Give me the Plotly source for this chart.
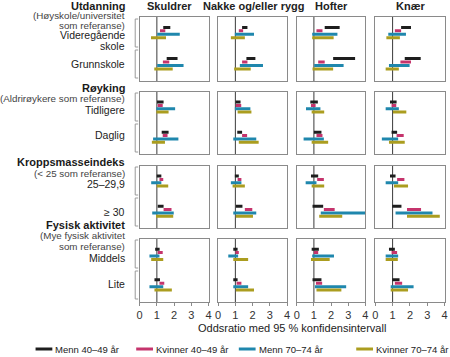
import plotly.graph_objects as go

W, H = 450, 357

# ---------------- data ----------------
columns = ["Skuldrer", "Nakke og/eller rygg", "Hofter", "Knær"]
groups = ["Utdanning", "Røyking", "Kroppsmasseindeks", "Fysisk aktivitet"]
group_refs = [["(Høyskole/universitet", "som referanse)"],
              ["(Aldrirøykere som referanse)"],
              ["(&lt; 25 som referanse)"],
              ["(Mye fysisk aktivitet", "som referanse)"]]
categories = [["Videregående<br>skole", "Grunnskole"],
              ["Tidligere", "Daglig"],
              ["25–29,9", "≥ 30"],
              ["Middels", "Lite"]]
series_names = ["Menn 40–49 år", "Kvinner 40–49 år", "Menn 70–74 år", "Kvinner 70–74 år"]
series_colors = ["#1e1e1e", "#c5346c", "#1f87ad", "#ab9d1f"]
xticks = [0, 1, 2, 3, 4]
x_title = "Oddsratio med 95 % konfidensintervall"

# confidence intervals: rows = 8 categories, cols = Skuldrer, Nakke, Hofter, Knær
menn40_lo = [[1.37, 1.39, 1.63, 1.49], [1.57, 1.64, 2.12, 1.70],
             [1.01, 1.01, 0.79, 0.85], [1.28, 1.11, 1.00, 0.94],
             [0.99, 0.97, 0.83, 0.85], [1.05, 1.03, 0.92, 0.98],
             [0.90, 0.88, 0.87, 0.79], [0.86, 0.88, 0.92, 0.98]]
menn40_hi = [[1.78, 1.70, 2.50, 2.06], [2.20, 2.16, 3.40, 2.62],
             [1.39, 1.30, 1.23, 1.23], [1.68, 1.39, 1.44, 1.26],
             [1.26, 1.20, 1.25, 1.17], [1.39, 1.41, 1.54, 1.51],
             [1.16, 1.13, 1.29, 1.13], [1.18, 1.13, 1.44, 1.40]]
kvinner40_lo = [[1.18, 1.20, 1.15, 1.13], [1.35, 1.39, 1.25, 1.45],
                [1.05, 1.03, 0.83, 0.94], [1.34, 1.39, 1.15, 1.23],
                [1.15, 1.13, 1.19, 1.26], [1.39, 1.55, 1.58, 1.83],
                [1.05, 1.01, 1.00, 0.94], [1.15, 1.07, 1.12, 1.13]]
kvinner40_hi = [[1.49, 1.45, 1.50, 1.49], [1.72, 1.70, 1.63, 2.06],
                [1.34, 1.34, 1.10, 1.21], [1.62, 1.68, 1.50, 1.64],
                [1.37, 1.35, 1.58, 1.68], [1.85, 1.98, 2.21, 2.64],
                [1.34, 1.20, 1.25, 1.26], [1.43, 1.35, 1.48, 1.55]]
menn70_lo = [[1.02, 0.97, 0.90, 0.75], [1.02, 1.26, 1.02, 0.79],
             [0.97, 0.97, 0.54, 0.60], [0.78, 0.88, 0.40, 0.38],
             [0.67, 0.74, 0.52, 0.60], [0.73, 0.88, 1.40, 1.17],
             [0.57, 0.59, 0.90, 0.60], [0.57, 0.88, 1.06, 0.89]]
menn70_hi = [[2.33, 2.08, 2.37, 1.77], [2.55, 2.60, 2.73, 1.98],
             [2.06, 1.87, 1.38, 1.36], [2.25, 2.21, 1.58, 1.32],
             [1.26, 1.35, 1.15, 1.32], [1.98, 2.21, 4.00, 3.30],
             [1.15, 1.16, 2.17, 1.32], [1.37, 1.74, 2.88, 2.21]]
kvinner70_lo = [[0.66, 0.74, 0.90, 0.64], [0.85, 0.93, 0.92, 0.60],
                [0.97, 1.13, 0.87, 1.02], [0.71, 1.20, 0.87, 0.79],
                [0.99, 0.84, 0.87, 1.08], [0.95, 1.03, 1.31, 1.83],
                [0.67, 0.88, 0.83, 0.60], [0.86, 1.03, 1.15, 0.89]]
kvinner70_hi = [[1.53, 1.55, 2.15, 1.42], [1.92, 1.89, 2.12, 1.36],
                [1.68, 1.93, 1.60, 1.79], [1.47, 2.35, 1.83, 1.70],
                [1.66, 1.55, 1.60, 1.89], [1.95, 2.02, 2.65, 3.72],
                [1.37, 1.74, 1.92, 1.30], [1.87, 2.08, 2.60, 1.89]]

series_lo = [menn40_lo, kvinner40_lo, menn70_lo, kvinner70_lo]
series_hi = [menn40_hi, kvinner40_hi, menn70_hi, kvinner70_hi]

# ---------------- layout geometry (pixels) ----------------
col_px = [(138.5, 208.3), (218.0, 288.0), (297.7, 367.3), (377.3, 447.6)]
row_px = [(17, 81), (92, 154), (166, 228), (239, 302)]
title_cx = [169, 254, 333, 413]
cat_base = [3, 12]          # first bar position of each category (y units)
y_range = [18.5, 0]

def px(x):
    return x / W

def py(y):
    return 1 - y / H

FONT = "Liberation Sans, Arial, sans-serif"
fig = go.Figure()
layout = dict(width=W, height=H, margin=dict(l=0, r=0, t=0, b=0),
              paper_bgcolor="white", plot_bgcolor="white", showlegend=False,
              font=dict(family=FONT, size=11, color="#222"))
shapes = []
annotations = []

for r in range(4):
    for c in range(4):
        n = r * 4 + c + 1
        xa = "xaxis" if n == 1 else f"xaxis{n}"
        ya = "yaxis" if n == 1 else f"yaxis{n}"
        xr = "x" if n == 1 else f"x{n}"
        yr = "y" if n == 1 else f"y{n}"
        bottom = (r == 3)
        layout[xa] = dict(domain=[px(col_px[c][0]), px(col_px[c][1])], range=[0, 4],
                          anchor=yr, showgrid=False, zeroline=False,
                          showline=True, mirror=True, linecolor="#8a8a8a", linewidth=1,
                          tickvals=xticks, showticklabels=bottom,
                          ticks="outside" if bottom else "", ticklen=3,
                          tickcolor="#8a8a8a",
                          tickfont=dict(size=11, color="#333", family=FONT))
        layout[ya] = dict(domain=[py(row_px[r][1]), py(row_px[r][0])], range=y_range,
                          anchor=xr, showgrid=False, zeroline=False,
                          showline=True, mirror=True, linecolor="#8a8a8a", linewidth=1,
                          showticklabels=False, ticks="")
        # reference line at OR = 1
        shapes.append(dict(type="line", xref=xr, yref=f"{yr} domain", x0=1, x1=1,
                           y0=0, y1=1, line=dict(color="#3a3a3a", width=1), layer="below"))
        for s in range(4):
            xs, ys = [], []
            for k in range(2):
                row = r * 2 + k
                yv = cat_base[k] + s
                xs += [series_lo[s][row][c], series_hi[s][row][c], None]
                ys += [yv, yv, None]
            fig.add_trace(go.Scatter(x=xs, y=ys, mode="lines", xaxis=xr, yaxis=yr,
                                     line=dict(color=series_colors[s], width=3),
                                     hoverinfo="skip", name=series_names[s]))

# column titles
for c, t in enumerate(columns):
    annotations.append(dict(text=f"<b>{t}</b>", x=px(title_cx[c]),
                            y=py(6), xref="paper", yref="paper", showarrow=False,
                            xanchor="center", yanchor="middle",
                            font=dict(size=11, color="#222", family=FONT)))

# left-side labels
label_y = [
    [6, [15.5, 25.5], [[35.5, 46.5], 64]],
    [88, [98.5], [110, 135]],
    [162, [173], [184, 212]],
    [225, [235.5, 246], [258, 284]],
]
RX = px(126)
for g in range(4):
    hy, ref_ys, cat_ys = label_y[g]
    annotations.append(dict(text=f"<b>{groups[g]}</b>", x=RX, y=py(hy), xref="paper",
                            yref="paper", showarrow=False, xanchor="right", yanchor="middle",
                            font=dict(size=11, color="#1a1a1a", family=FONT)))
    for t, yy in zip(group_refs[g], ref_ys):
        annotations.append(dict(text=t, x=RX, y=py(yy), xref="paper", yref="paper",
                                showarrow=False, xanchor="right", yanchor="middle",
                                font=dict(size=9.8, color="#444", family=FONT)))
    for k in range(2):
        cy = cat_ys[k]
        lines = categories[g][k].split("<br>")
        ys_ = cy if isinstance(cy, list) else [cy]
        for t, yy in zip(lines, ys_):
            annotations.append(dict(text=t, x=RX, y=py(yy), xref="paper", yref="paper",
                                    showarrow=False, xanchor="right", yanchor="middle",
                                    font=dict(size=10.5, color="#222", family=FONT)))

# brackets
brackets = [(19, 47), (50, 78), (93, 121), (124, 152), (167, 195), (198, 226),
            (240, 268), (271, 299)]
for (t, b) in brackets:
    shapes.append(dict(type="path", xref="paper", yref="paper",
                       path=f"M {px(137)},{py(t)} L {px(134)},{py(t)} L {px(134)},{py(b)} L {px(137)},{py(b)}",
                       line=dict(color="#9a9a9a", width=1)))

# x title
annotations.append(dict(text=x_title, x=px(293), y=py(328), xref="paper", yref="paper",
                        showarrow=False, xanchor="center", yanchor="middle",
                        font=dict(size=11, color="#222", family=FONT)))

# legend
leg_x = [33, 135, 239, 358]
for s in range(4):
    shapes.append(dict(type="line", xref="paper", yref="paper", x0=px(leg_x[s]),
                       x1=px(leg_x[s] + 17), y0=py(349), y1=py(349),
                       line=dict(color=series_colors[s], width=3)))
    annotations.append(dict(text=series_names[s], x=px(leg_x[s] + 18), y=py(349),
                            xref="paper", yref="paper", showarrow=False,
                            xanchor="left", yanchor="middle",
                            font=dict(size=9.5, color="#222", family=FONT)))

layout["shapes"] = shapes
layout["annotations"] = annotations
fig.update_layout(**layout)
fig.write_html("out.html", config={"displayModeBar": False},
               post_script="document.body.style.margin='0';document.body.style.padding='0';document.documentElement.style.overflow='hidden';")
